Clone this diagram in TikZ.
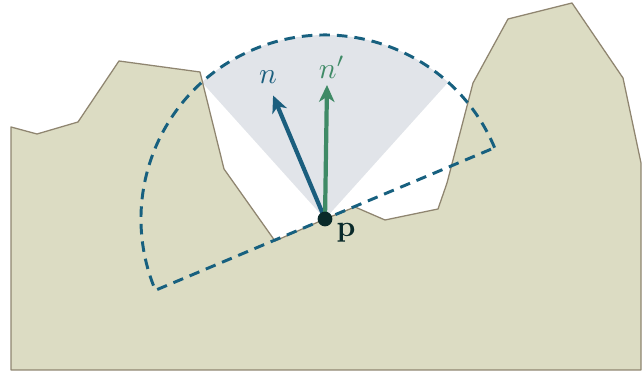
\documentclass[tikz,border=0pt]{standalone}
\usepackage{graphicx}
\usetikzlibrary{arrows.meta,calc}
\definecolor{terrain}{HTML}{DCDCC3}
\definecolor{terrainedge}{HTML}{8F8570}
\definecolor{cone}{HTML}{E1E4E9}
\definecolor{dashblue}{HTML}{17607F}
\definecolor{nblue}{HTML}{1B5E7E}
\definecolor{ngreen}{HTML}{3F8A66}
\definecolor{pdark}{HTML}{0A2A2A}
\newcommand{\biglbl}[1]{\scalebox{2.1}{#1}}
\tikzset{
  ground/.style={fill=terrain, draw=terrainedge, line width=0.9pt, line join=round},
  hemi/.style={draw=dashblue, line width=2.1pt, dash pattern=on 7.5pt off 5pt},
  vec/.style={line width=3pt, -{Stealth[length=12pt,width=11pt,inset=3.5pt]}},
  lbl/.style={inner sep=0pt}
}
\begin{document}
\begin{tikzpicture}[x=0.025cm,y=0.025cm]
\useasboundingbox (0,0) rectangle (644,372);
\coordinate (p) at (325,153);
% cone of directions around n'
\fill[cone] (p) -- ++(48:184) arc[start angle=48, end angle=132, radius=184] -- cycle;
% terrain
\draw[ground] (11,245) -- (37,238) -- (78,250) -- (119,311) -- (200,300) -- (224,203)
  -- (275,131) -- (325,153) -- (355,165) -- (385,152) -- (438,163) -- (447,189)
  -- (473,289) -- (508,353) -- (572,369) -- (623,294) -- (641,209) -- (641,2)
  -- (11,2) -- cycle;
% hemisphere
\draw[hemi] ($(p)+(22.8:184)$) arc[start angle=22.8, end angle=202.8, radius=184] -- cycle;
% vectors
\coordinate (ntip) at ($(p)+(112.8:134)$);
\coordinate (nptip) at (327,287);
\draw[vec, nblue] (p) -- (ntip);
\draw[vec, ngreen] (p) -- (nptip);
\node[circle, fill=pdark, inner sep=0pt, minimum size=10.5pt] (pdot) at (p) {};
\node[lbl, text=nblue] (nlab) at (268,295) {\biglbl{$n$}};
\node[lbl, text=ngreen] (nplab) at (332,305) {\biglbl{$n'$}};
\node[lbl, text=pdark] (plab) at (346,139) {\biglbl{$\mathbf{p}$}};
\end{tikzpicture}
\end{document}
